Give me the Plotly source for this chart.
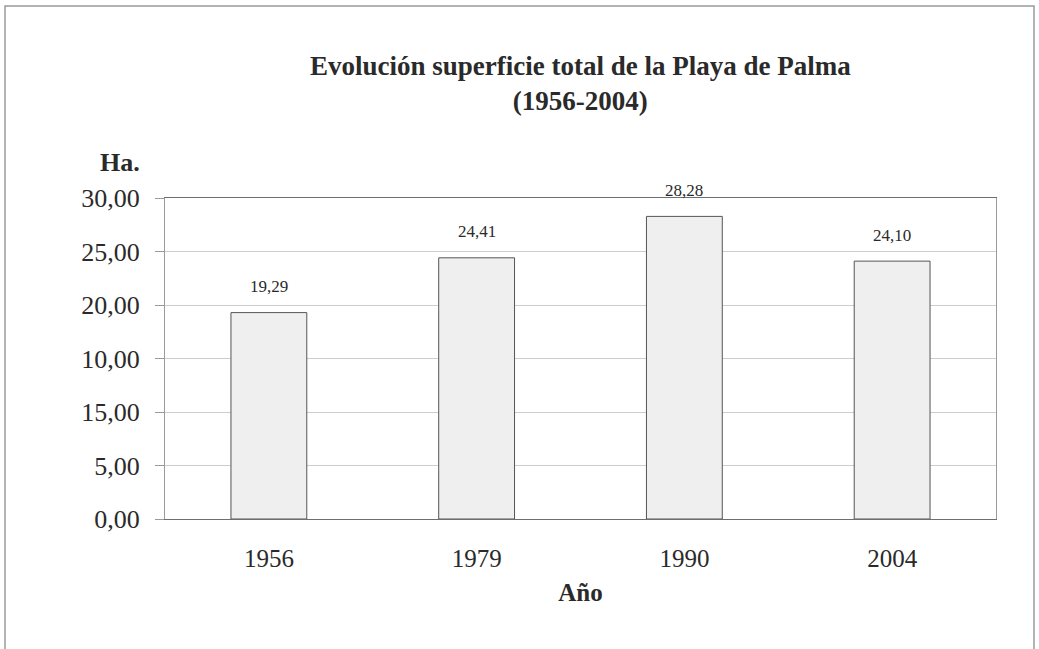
import plotly.graph_objects as go

# Data
years = ["1956", "1979", "1990", "2004"]
superficie_ha = [19.29, 24.41, 28.28, 24.10]
value_labels = ["19,29", "24,41", "28,28", "24,10"]
y_tick_values = [0, 5, 10, 15, 20, 25, 30]
y_tick_labels = ["0,00", "5,00", "15,00", "10,00", "20,00", "25,00", "30,00"]

title_lines = ["Evolución superficie total de la Playa de Palma", "(1956-2004)"]
y_title = "Ha."
x_title = "Año"

FONT = "Liberation Serif, Times New Roman, serif"
TXT = "#2a2a2a"

W, H = 1039, 649
# plot area in page pixels
PL, PR, PT, PB = 165, 996, 198, 519
PW, PH = PR - PL, PB - PT


def px(x):
    return (x - PL) / PW


def py(y):
    return (PB - y) / PH


fig = go.Figure()
fig.add_trace(go.Bar(
    x=years,
    y=superficie_ha,
    marker=dict(color="#efefef", line=dict(color="#555555", width=1)),
    hoverinfo="x+y",
))

# value labels above the bars (category index on the category axis)
for i, (v, lab) in enumerate(zip(superficie_ha, value_labels)):
    fig.add_annotation(
        x=i, y=v, text=lab, showarrow=False, xref="x", yref="y",
        yanchor="middle", yshift=26,
        font=dict(family=FONT, size=17, color=TXT),
    )

fig.update_layout(
    width=W, height=H,
    margin=dict(l=PL, r=W - PR, t=PT, b=H - PB),
    paper_bgcolor="white", plot_bgcolor="white",
    showlegend=False,
    bargap=0.635,
    font=dict(family=FONT, color=TXT),
)

# Title (two bold lines)
fig.add_annotation(
    x=px(580), y=py(83.5), xref="paper", yref="paper",
    text="<br>".join("<b>" + t + "</b>" for t in title_lines),
    showarrow=False, xanchor="center", yanchor="middle",
    font=dict(family=FONT, size=27, color=TXT),
)

fig.update_xaxes(
    type="category", categoryorder="array", categoryarray=years,
    range=[-0.5, len(years) - 0.5], autorange=False,
    showline=True, linecolor="#6e6e6e", linewidth=1, mirror=True,
    showgrid=False, ticks="", ticklabelstandoff=17,
    tickfont=dict(family=FONT, size=25, color=TXT),
    title=dict(text="<b>" + x_title + "</b>", standoff=12,
               font=dict(family=FONT, size=25, color=TXT)),
)
fig.update_yaxes(
    range=[0, 30], autorange=False, tickvals=y_tick_values, ticktext=y_tick_labels,
    showline=True, linecolor="#9a9a9a", linewidth=1, mirror=True,
    showgrid=True, gridcolor="#cdcdcd", gridwidth=1,
    ticks="outside", ticklen=9, tickcolor="#9a9a9a",
    ticklabelstandoff=10, zeroline=False,
    tickfont=dict(family=FONT, size=26, color=TXT),
)

# "Ha." label above the y axis
fig.add_annotation(
    x=px(120), y=py(162), xref="paper", yref="paper",
    text="<b>" + y_title + "</b>", showarrow=False,
    xanchor="center", yanchor="middle",
    font=dict(family=FONT, size=26, color=TXT),
)

# Outer frame (runs off the bottom edge as in the scan)
fig.add_shape(
    type="rect", xref="paper", yref="paper",
    x0=px(5), x1=px(1034), y0=py(660), y1=py(6),
    line=dict(color="#9a9a9a", width=1.5), fillcolor="rgba(0,0,0,0)",
)

fig.write_html(
    "out.html",
    config={"displayModeBar": False},
    post_script="document.body.style.margin='0';document.body.style.overflow='hidden';",
)
